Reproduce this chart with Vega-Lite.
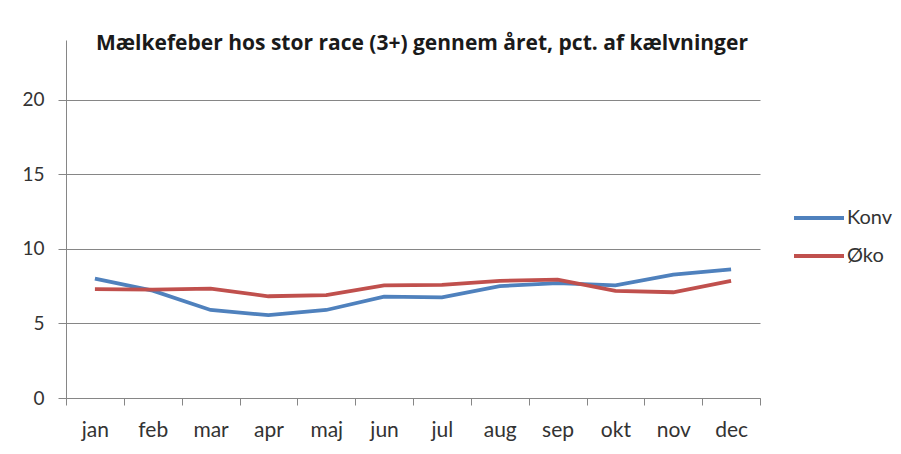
{
  "$schema": "https://vega.github.io/schema/vega-lite/v6.json",
  "autosize": "none",
  "width": 694,
  "height": 358,
  "padding": {"left": 66, "top": 40, "right": 141, "bottom": 56},
  "background": "white",
  "title": {
    "text": "Mælkefeber hos stor race (3+) gennem året, pct. af kælvninger",
    "font": "Open Sans",
    "fontSize": 21,
    "fontWeight": "bold",
    "color": "#1a1a1a",
    "anchor": "middle",
    "baseline": "alphabetic",
    "offset": 0,
    "dy": 31,
    "dx": 9
  },
  "data": {
    "values": [
      {"month": "jan", "series": "Konv", "value": 8.0},
      {"month": "feb", "series": "Konv", "value": 7.2},
      {"month": "mar", "series": "Konv", "value": 5.9},
      {"month": "apr", "series": "Konv", "value": 5.55},
      {"month": "maj", "series": "Konv", "value": 5.9},
      {"month": "jun", "series": "Konv", "value": 6.8},
      {"month": "jul", "series": "Konv", "value": 6.75},
      {"month": "aug", "series": "Konv", "value": 7.5},
      {"month": "sep", "series": "Konv", "value": 7.7},
      {"month": "okt", "series": "Konv", "value": 7.55},
      {"month": "nov", "series": "Konv", "value": 8.27},
      {"month": "dec", "series": "Konv", "value": 8.63},
      {"month": "jan", "series": "Øko", "value": 7.3},
      {"month": "feb", "series": "Øko", "value": 7.27},
      {"month": "mar", "series": "Øko", "value": 7.33},
      {"month": "apr", "series": "Øko", "value": 6.82},
      {"month": "maj", "series": "Øko", "value": 6.9},
      {"month": "jun", "series": "Øko", "value": 7.55},
      {"month": "jul", "series": "Øko", "value": 7.58},
      {"month": "aug", "series": "Øko", "value": 7.85},
      {"month": "sep", "series": "Øko", "value": 7.94},
      {"month": "okt", "series": "Øko", "value": 7.18},
      {"month": "nov", "series": "Øko", "value": 7.09},
      {"month": "dec", "series": "Øko", "value": 7.85}
    ]
  },
  "mark": {"type": "line", "strokeWidth": 3.8},
  "encoding": {
    "x": {
      "field": "month",
      "type": "ordinal",
      "sort": ["jan","feb","mar","apr","maj","jun","jul","aug","sep","okt","nov","dec"],
      "bandPosition": 0.5,
      "scale": {"type": "band", "paddingInner": 0, "paddingOuter": 0},
      "axis": {
        "title": null,
        "labelAngle": 0,
        "tickBand": "extent",
        "tickSize": 7,
        "tickColor": "#868686",
        "domainColor": "#868686",
        "labelPadding": 14,
        "labelFont": "Lato",
        "labelFontSize": 21,
        "labelColor": "#333333",
        "grid": false
      }
    },
    "y": {
      "field": "value",
      "type": "quantitative",
      "scale": {"domain": [0, 24], "nice": false},
      "axis": {
        "title": null,
        "values": [0, 5, 10, 15, 20],
        "tickSize": 8,
        "tickColor": "#868686",
        "domainColor": "#868686",
        "gridColor": "#868686",
        "labelPadding": 14,
        "labelFont": "Lato",
        "labelFontSize": 19,
        "labelColor": "#333333"
      }
    },
    "color": {
      "field": "series",
      "type": "nominal",
      "scale": {"domain": ["Konv", "Øko"], "range": ["#4F81BD", "#C0504D"]},
      "legend": {
        "title": null,
        "orient": "none",
        "legendX": 726,
        "legendY": 151,
        "symbolType": "stroke",
        "symbolSize": 2500,
        "symbolStrokeWidth": 3.8,
        "labelFont": "Lato",
        "labelFontSize": 20,
        "labelColor": "#333333",
        "labelOffset": 1,
        "rowPadding": 1
      }
    }
  },
  "config": {"view": {"stroke": null}}
}
